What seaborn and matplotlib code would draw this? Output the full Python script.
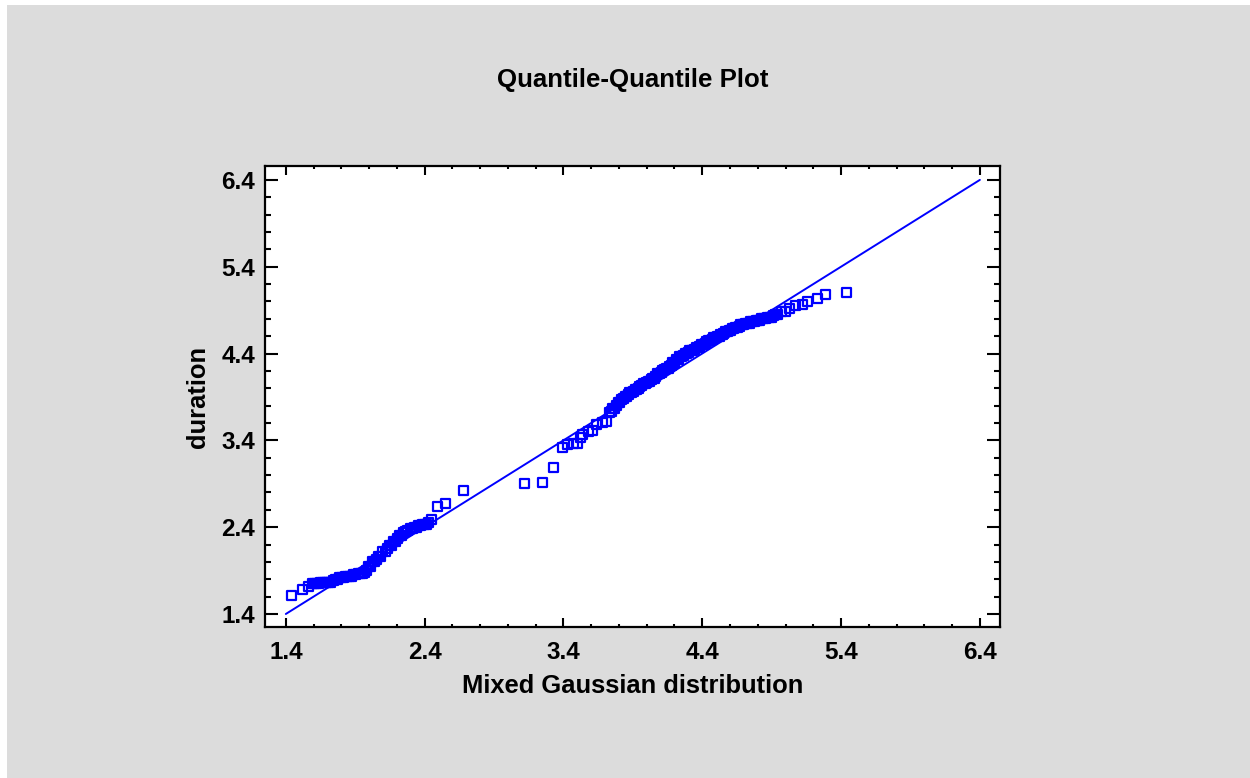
import matplotlib
matplotlib.use("Agg")
import matplotlib.pyplot as plt
from matplotlib.patches import Rectangle
from matplotlib.ticker import MultipleLocator, FixedLocator, FormatStrFormatter
import seaborn as sns
import pandas as pd

# Theoretical quantiles of the fitted mixed Gaussian distribution (x)
# paired with the sorted eruption durations (y).
# Short-eruption group
short_theoretical = [
    1.440, 1.520, 1.560,
    1.590, 1.605, 1.620, 1.635, 1.650, 1.665, 1.680, 1.695, 1.710, 1.725,
    1.740, 1.755, 1.770, 1.785, 1.800, 1.815, 1.830, 1.845, 1.860, 1.875,
    1.890, 1.905, 1.920, 1.935, 1.950, 1.965, 1.980, 1.995, 2.010, 2.025,
    2.040, 2.055, 2.070, 2.085, 2.100, 2.115, 2.130, 2.145, 2.160, 2.175,
    2.190, 2.205, 2.220, 2.235, 2.250, 2.265, 2.280, 2.295, 2.310, 2.325,
    2.340, 2.355, 2.370, 2.385, 2.400, 2.415, 2.430,
    2.450, 2.490, 2.550, 2.680,
]
short_duration = [
    1.617, 1.683, 1.717,
    1.750, 1.750, 1.750, 1.750, 1.767, 1.767, 1.767, 1.767, 1.767, 1.767,
    1.783, 1.800, 1.800, 1.817, 1.817, 1.817, 1.833, 1.833, 1.833, 1.833,
    1.850, 1.850, 1.867, 1.867, 1.867, 1.883, 1.900, 1.950, 1.950, 2.000,
    2.000, 2.033, 2.067, 2.067, 2.117, 2.117, 2.150, 2.183, 2.183, 2.233,
    2.233, 2.267, 2.300, 2.300, 2.333, 2.350, 2.367, 2.383, 2.383, 2.400,
    2.400, 2.417, 2.417, 2.433, 2.433, 2.433, 2.450,
    2.483, 2.633, 2.667, 2.817,
]

# Long-eruption group
long_theoretical = [
    3.120, 3.250, 3.330, 3.390, 3.430, 3.470, 3.500, 3.520, 3.540, 3.580,
    3.610, 3.640, 3.680, 3.710,
    3.734, 3.745, 3.756, 3.770, 3.785, 3.796, 3.806, 3.820, 3.835, 3.846,
    3.857, 3.868, 3.878, 3.892, 3.907, 3.918, 3.929, 3.940, 3.950, 3.965,
    3.979, 3.990, 4.001, 4.012, 4.023, 4.034, 4.044, 4.055, 4.066, 4.080,
    4.094, 4.105, 4.116, 4.130, 4.145, 4.156, 4.167, 4.178, 4.188, 4.202,
    4.217, 4.228, 4.239, 4.253, 4.267, 4.278, 4.289, 4.300, 4.311, 4.322,
    4.332, 4.346, 4.361, 4.372, 4.383, 4.397, 4.412, 4.422, 4.433, 4.448,
    4.462, 4.473, 4.484, 4.498, 4.512, 4.523, 4.534, 4.545, 4.556, 4.570,
    4.584, 4.595, 4.606, 4.617, 4.628, 4.642, 4.656, 4.667, 4.678, 4.689,
    4.700, 4.714, 4.728, 4.739, 4.750, 4.765, 4.779, 4.790, 4.801, 4.815,
    4.829, 4.844, 4.858, 4.873, 4.887, 4.902, 4.916, 4.930, 4.945, 4.973,
    5.002, 5.031,
    5.070, 5.120, 5.160, 5.230, 5.290, 5.440,
]
long_duration = [
    2.900, 2.917, 3.083, 3.317, 3.350, 3.367, 3.367, 3.433, 3.467, 3.500,
    3.517, 3.583, 3.600, 3.617,
    3.717, 3.733, 3.767, 3.767, 3.800, 3.833, 3.833, 3.867, 3.883, 3.900,
    3.900, 3.933, 3.950, 3.950, 3.967, 3.983, 3.983, 4.000, 4.017, 4.033,
    4.050, 4.050, 4.067, 4.083, 4.083, 4.100, 4.117, 4.117, 4.133, 4.167,
    4.167, 4.183, 4.200, 4.217, 4.233, 4.233, 4.250, 4.267, 4.300, 4.300,
    4.333, 4.333, 4.367, 4.367, 4.383, 4.400, 4.400, 4.417, 4.433, 4.433,
    4.433, 4.450, 4.467, 4.467, 4.483, 4.500, 4.500, 4.517, 4.533, 4.550,
    4.550, 4.567, 4.583, 4.583, 4.600, 4.600, 4.617, 4.617, 4.633, 4.650,
    4.650, 4.667, 4.667, 4.683, 4.683, 4.700, 4.700, 4.717, 4.733, 4.733,
    4.733, 4.750, 4.750, 4.750, 4.767, 4.767, 4.767, 4.783, 4.783, 4.783,
    4.800, 4.800, 4.800, 4.817, 4.817, 4.817, 4.833, 4.850, 4.850, 4.883,
    4.883, 4.917,
    4.950, 4.967, 5.000, 5.033, 5.083, 5.100,
]

# Reference line y = x
ref_line = [1.40, 6.40]

major_ticks = [1.4, 2.4, 3.4, 4.4, 5.4, 6.4]

df = pd.DataFrame({
    "theoretical": short_theoretical + long_theoretical,
    "duration": short_duration + long_duration,
})

sns.set_theme(style="white")
plt.rcParams["font.family"] = ["Liberation Sans", "DejaVu Sans"]
plt.rcParams["font.weight"] = "bold"

fig = plt.figure(figsize=(12.5, 7.78), dpi=100, facecolor="white")
# grey panel behind everything, leaving a thin white strip top and left
fig.patches.append(Rectangle((7 / 1250, 0), 1 - 7 / 1250, 1 - 5 / 778,
                             transform=fig.transFigure, facecolor="#dcdcdc",
                             edgecolor="none", zorder=-10))

ax = fig.add_axes([265 / 1250, 151 / 778, 735 / 1250, 461 / 778])
ax.set_zorder(5)
ax.set_facecolor("white")

ax.plot(ref_line, ref_line, color="#0000ff", lw=1.4, zorder=2)
sns.scatterplot(data=df, x="theoretical", y="duration", ax=ax, marker="s",
                s=42, facecolors="none", edgecolor="#0000ff", linewidth=1.6,
                zorder=3)

ax.set_xlim(1.25, 6.545)
ax.set_ylim(1.25, 6.56)
ax.xaxis.set_major_locator(FixedLocator(major_ticks))
ax.yaxis.set_major_locator(FixedLocator(major_ticks))
ax.xaxis.set_minor_locator(MultipleLocator(0.2))
ax.yaxis.set_minor_locator(MultipleLocator(0.2))
ax.xaxis.set_major_formatter(FormatStrFormatter("%.1f"))
ax.yaxis.set_major_formatter(FormatStrFormatter("%.1f"))

for side in ["left", "right", "top", "bottom"]:
    ax.spines[side].set_visible(True)
    ax.spines[side].set_color("black")
    ax.spines[side].set_linewidth(1.6)

ax.tick_params(axis="x", which="major", direction="in", top=True, bottom=True,
               length=6.5, width=1.5, color="black", labelsize=17.5, pad=10)
ax.tick_params(axis="x", which="minor", direction="in", top=True, bottom=True,
               length=2.5, width=1.5, color="black")
ax.tick_params(axis="y", which="major", direction="in", left=True, right=True,
               length=9.5, width=1.5, color="black", labelsize=17.5, pad=7)
ax.tick_params(axis="y", which="minor", direction="in", left=True, right=True,
               length=4.5, width=1.5, color="black")
for lbl in ax.get_xticklabels() + ax.get_yticklabels():
    lbl.set_fontweight("bold")
    lbl.set_color("black")

ax.set_xlabel("Mixed Gaussian distribution", fontsize=18.4, fontweight="bold",
              color="black", labelpad=7)
ax.set_ylabel("duration", fontsize=18.4, fontweight="bold", color="black",
              labelpad=8)

fig.text(633 / 1250, 1 - 80 / 778, "Quantile-Quantile Plot", ha="center",
         va="center", fontsize=18.6, fontweight="bold", color="black")

fig.savefig("out.png", dpi=100, facecolor=fig.get_facecolor())
